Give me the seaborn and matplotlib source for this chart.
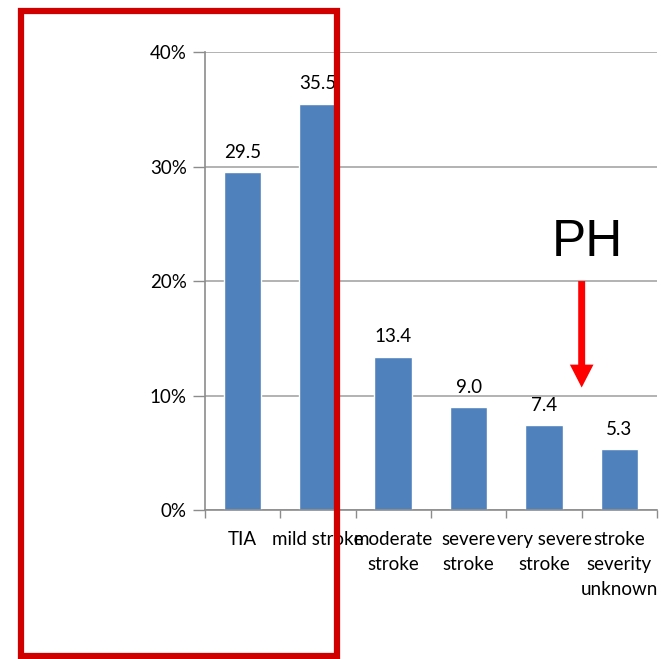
import matplotlib
matplotlib.use("Agg")
import matplotlib.pyplot as plt
import seaborn as sns
from matplotlib.patches import Rectangle
from matplotlib.ticker import FixedLocator, FuncFormatter

categories = ["TIA", "mild stroke", "moderate stroke", "severe stroke",
              "very severe stroke", "stroke severity unknown"]
tick_labels = ["TIA", "mild stroke", "moderate\nstroke", "severe\nstroke",
               "very severe\nstroke", "stroke\nseverity\nunknown"]
values = [29.5, 35.5, 13.4, 9.0, 7.4, 5.3]
y_ticks = [0, 10, 20, 30, 40]

sns.set_theme(style="white")
plt.rcParams["font.family"] = ["Lato", "DejaVu Sans"]

FS = 13.5

fig = plt.figure(figsize=(6.61, 6.59), dpi=100)
ax = fig.add_axes([0.310, 0.226, 0.684, 0.695])

sns.barplot(x=categories, y=values, color="#4F81BD", width=0.5,
            saturation=1, ax=ax)

ax.set_xlim(-0.5, len(categories) - 0.5)
ax.set_ylim(0, 40)
ax.set_yticks(y_ticks)
ax.yaxis.set_major_formatter(FuncFormatter(lambda v, _: f"{v:.0f}%"))
ax.set_xlabel("")
ax.set_ylabel("")

ax.set_xticks(range(len(categories)))
ax.set_xticklabels(tick_labels, linespacing=1.58, fontsize=FS, color="black")
ax.xaxis.set_minor_locator(FixedLocator([i - 0.5 for i in range(len(categories) + 1)]))
ax.tick_params(axis="x", which="major", length=0, pad=15)
ax.tick_params(axis="x", which="minor", length=6, width=1, color="#8C8C8C",
               direction="out", bottom=True)
ax.tick_params(axis="y", length=9, width=1, color="#8C8C8C", direction="out",
               labelsize=FS, labelcolor="black", pad=4, left=True)

ax.yaxis.grid(True, color="#A6A6A6", linewidth=1.2)
ax.set_axisbelow(True)
for side in ("top", "right"):
    ax.spines[side].set_visible(False)
for side in ("left", "bottom"):
    ax.spines[side].set_color("#8C8C8C")
    ax.spines[side].set_linewidth(1.2)

for i, v in enumerate(values):
    ax.text(i, v + 1.0, f"{v:.1f}", ha="center", va="bottom",
            fontsize=FS, color="black")

# PH marker with a downward arrow
ax.text(4.57, 23.4, "PH", ha="center", va="center", fontsize=37,
        family=["Liberation Sans", "DejaVu Sans"], color="black")
ax.annotate("", xy=(4.5, 10.7), xytext=(4.5, 20.0),
            arrowprops=dict(width=5, headwidth=17, headlength=16.5,
                            facecolor="#FF0000", edgecolor="none",
                            shrink=0))

# highlight box around the first two categories
fig.patches.append(Rectangle((21 / 661, 1 - 656 / 659), (337 - 21) / 661,
                             (656 - 11) / 659, transform=fig.transFigure,
                             fill=False, edgecolor="#D00000", linewidth=4.5,
                             zorder=10))

fig.savefig("out.png", dpi=100)
